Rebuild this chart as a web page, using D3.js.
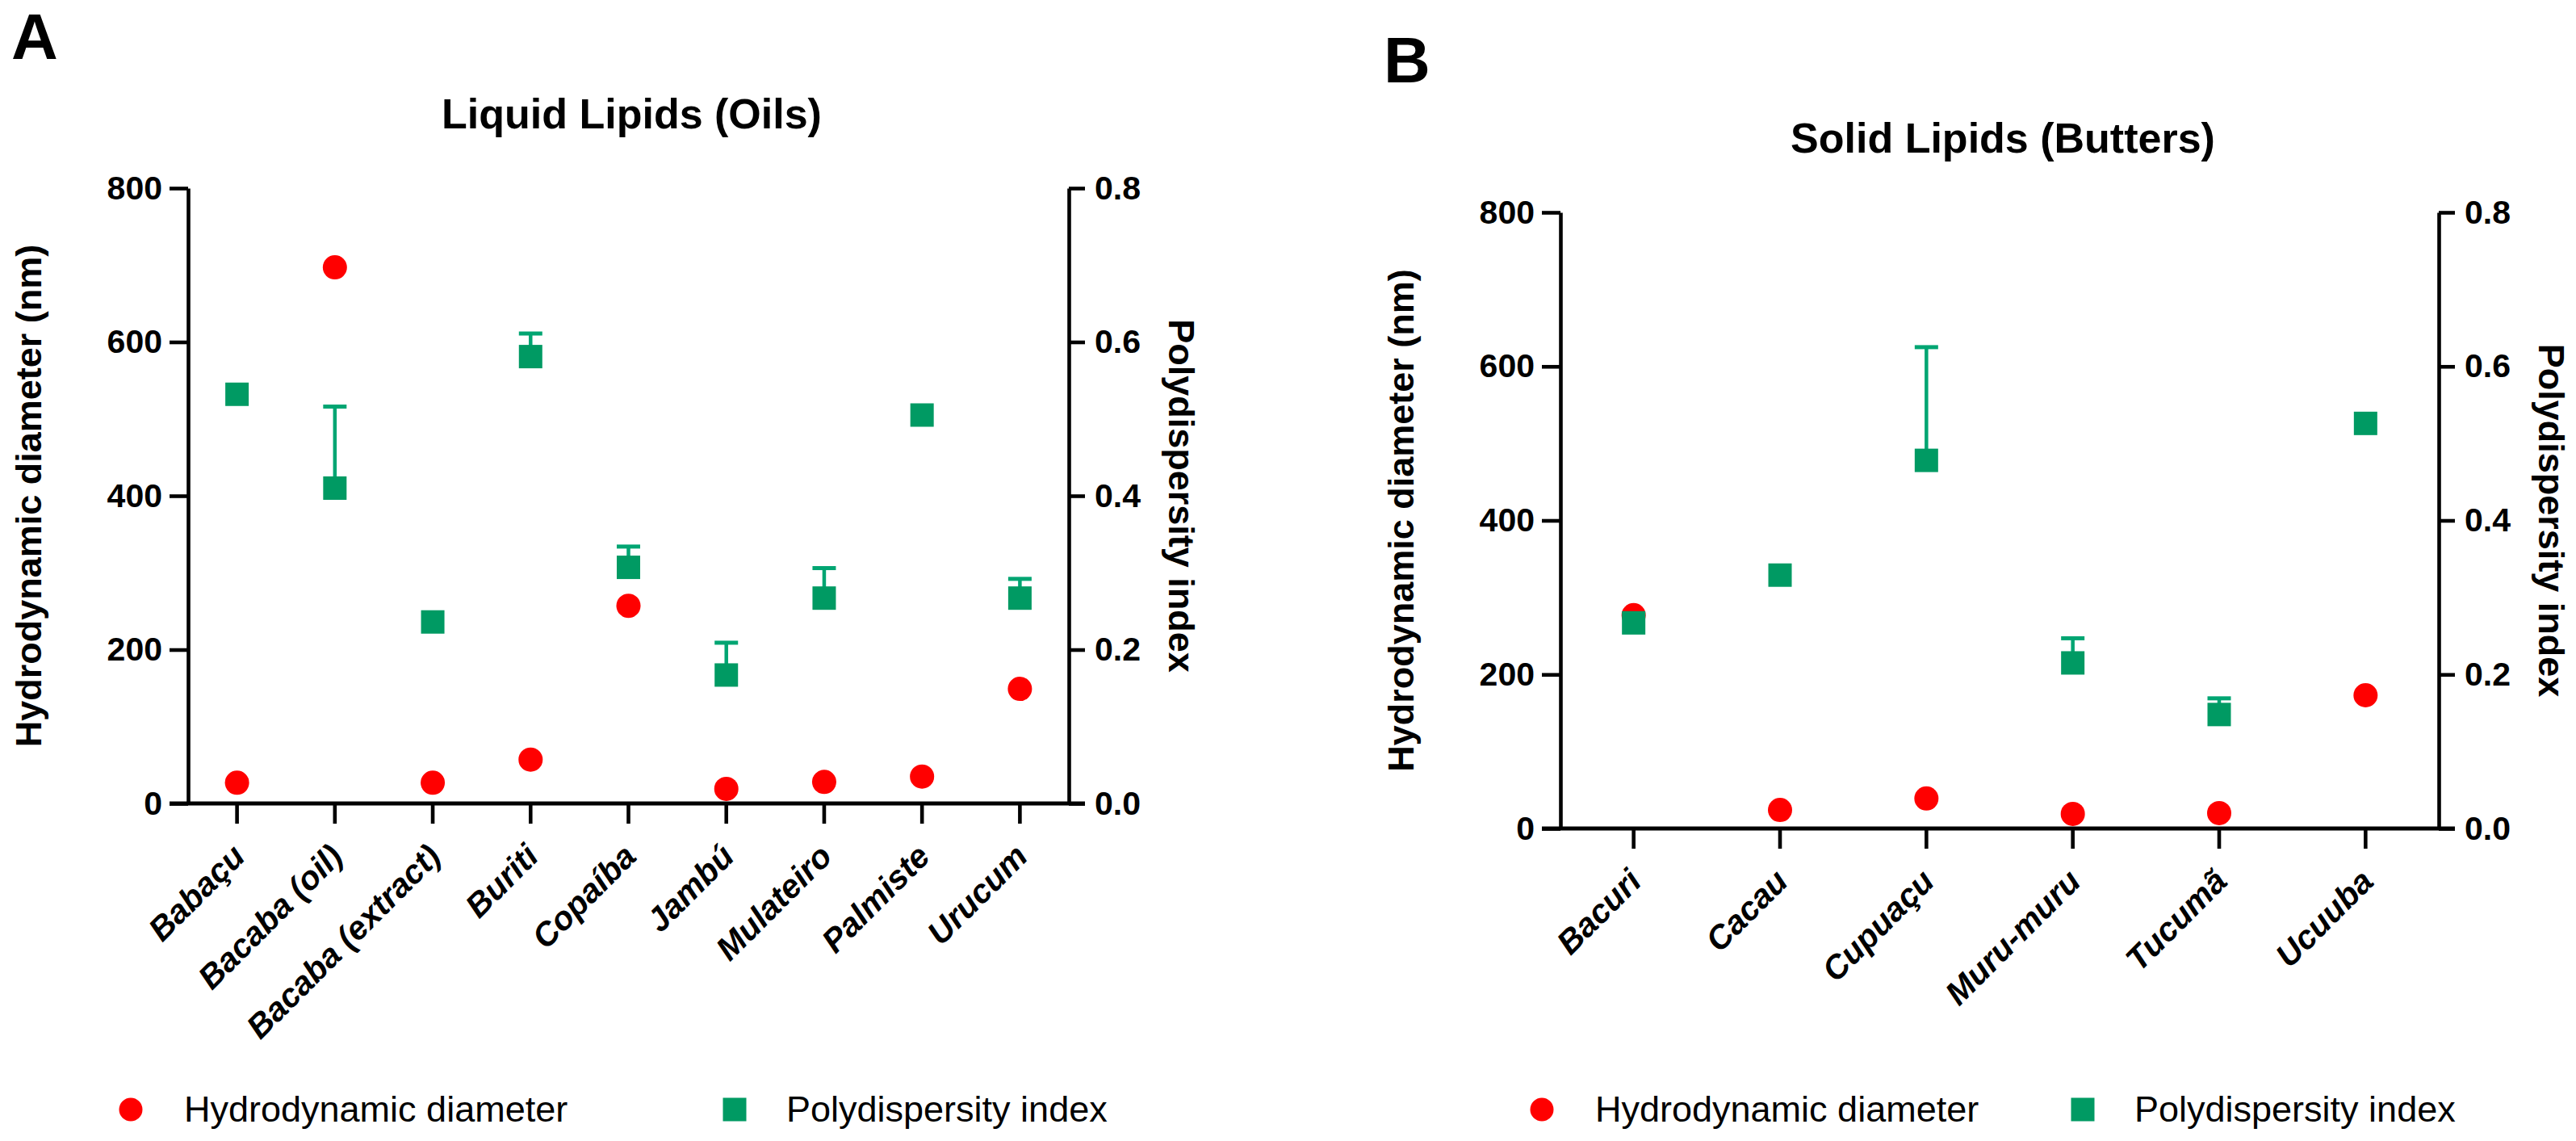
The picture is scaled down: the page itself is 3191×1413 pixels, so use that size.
<!DOCTYPE html>
<html><head><meta charset="utf-8">
<script src="https://cdn.jsdelivr.net/npm/d3@7"></script>
<style>html,body{margin:0;padding:0;background:#fff} svg{display:block}</style>
</head><body>
<svg id="chart" width="3191" height="1413"></svg>
<script>
// ---------- data ----------
const oilsCategories = ["Babaçu", "Bacaba (oil)", "Bacaba (extract)", "Buriti", "Copaíba", "Jambú", "Mulateiro", "Palmiste", "Urucum"];
const oilsDiameter   = [27, 697, 27, 57, 257, 19, 28, 35, 149];
const oilsPdi        = [0.532, 0.410, 0.236, 0.581, 0.307, 0.167, 0.267, 0.505, 0.267];
const oilsPdiSd      = [0, 0.106, 0, 0.030, 0.027, 0.042, 0.039, 0, 0.025];

const buttersCategories = ["Bacuri", "Cacau", "Cupuaçu", "Muru-muru", "Tucumã", "Ucuuba"];
const buttersDiameter   = [277, 24, 39, 19, 20, 173];
const buttersPdi        = [0.267, 0.329, 0.478, 0.215, 0.148, 0.526];
const buttersPdiSd      = [0, 0, 0.147, 0.032, 0.021, 0];

const diameterTicks = [0, 200, 400, 600, 800];
const pdiTicks      = [0, 0.2, 0.4, 0.6, 0.8];

const titles       = ["Liquid Lipids (Oils)", "Solid Lipids (Butters)"];
const panelLetters = ["A", "B"];
const leftAxisTitle  = "Hydrodynamic diameter (nm)";
const rightAxisTitle = "Polydispersity index";
const legendLabels   = ["Hydrodynamic diameter", "Polydispersity index"];

// ---------- style ----------
const FONT = "'Liberation Sans', Arial, Helvetica, sans-serif";
const RED = "#FF0000", GREEN = "#009A63", GREEN_ERR = "#00A572";
const AXW = 4.6;

const svg = d3.select("#chart");

function drawPanel(cfg) {
  const g = svg.append("g");
  const x = d3.scaleBand().domain(cfg.categories).range([cfg.left, cfg.right]);
  const cx = c => x(c) + x.bandwidth() / 2;
  const yL = d3.scaleLinear().domain([0, 800]).range([cfg.bottom, cfg.top]);
  const yR = d3.scaleLinear().domain([0, 0.8]).range([cfg.bottom, cfg.top]);

  // letter + title
  g.append("text").attr("x", cfg.letterX).attr("y", cfg.letterY)
    .attr("font-family", FONT).attr("font-weight", "bold").attr("font-size", 80)
    .text(cfg.letter);
  g.append("text").attr("x", (cfg.left + cfg.right) / 2 + 4).attr("y", cfg.top - 74)
    .attr("text-anchor", "middle")
    .attr("font-family", FONT).attr("font-weight", "bold").attr("font-size", 52)
    .text(cfg.title);

  // left axis
  const la = g.append("g").attr("transform", `translate(${cfg.left},0)`)
    .call(d3.axisLeft(yL).tickValues(diameterTicks).tickSize(23).tickSizeOuter(0).tickPadding(9).tickFormat(d3.format("d")));
  // right axis
  const ra = g.append("g").attr("transform", `translate(${cfg.right},0)`)
    .call(d3.axisRight(yR).tickValues(pdiTicks).tickSize(20).tickSizeOuter(0).tickPadding(12).tickFormat(d3.format(".1f")));
  // bottom axis
  const ba = g.append("g").attr("transform", `translate(0,${cfg.bottom})`)
    .call(d3.axisBottom(x).tickSize(25).tickSizeOuter(0));
  ba.select(".domain").remove();
  g.append("line")
    .attr("x1", cfg.left - 23).attr("x2", cfg.right + 20)
    .attr("y1", cfg.bottom).attr("y2", cfg.bottom)
    .attr("stroke", "#000").attr("stroke-width", AXW + 0.4);

  [la, ra, ba].forEach(a => {
    a.selectAll(".domain").attr("stroke", "#000").attr("stroke-width", AXW);
    a.selectAll(".tick line").attr("stroke", "#000").attr("stroke-width", AXW);
    a.selectAll("text").attr("font-family", FONT).attr("font-weight", "bold")
      .attr("font-size", 41).attr("fill", "#000");
  });
  ba.selectAll(".tick text")
    .attr("x", null).attr("y", null).attr("dy", null)
    .attr("text-anchor", "end")
    .attr("font-style", "italic")
    .attr("font-size", 41)
    .attr("transform", "translate(12,68) rotate(-45)");

  // axis titles
  const midY = (cfg.top + cfg.bottom) / 2;
  g.append("text").attr("transform", `translate(${cfg.left - 182},${midY}) rotate(-90)`)
    .attr("text-anchor", "middle")
    .attr("font-family", FONT).attr("font-weight", "bold").attr("font-size", 45)
    .text(leftAxisTitle);
  g.append("text").attr("transform", `translate(${cfg.right + 124},${midY}) rotate(90)`)
    .attr("text-anchor", "middle")
    .attr("font-family", FONT).attr("font-weight", "bold").attr("font-size", 45)
    .text(rightAxisTitle);

  // diameter points
  g.append("g").selectAll("circle").data(cfg.categories).join("circle")
    .attr("cx", d => cx(d)).attr("cy", (d, i) => yL(cfg.diameter[i]))
    .attr("r", 15).attr("fill", RED);

  // pdi error bars (upper only)
  const eb = g.append("g").attr("stroke", GREEN_ERR);
  cfg.categories.forEach((c, i) => {
    if (cfg.sd[i] <= 0) return;
    const top = yR(cfg.pdi[i] + cfg.sd[i]);
    eb.append("line").attr("x1", cx(c)).attr("x2", cx(c))
      .attr("y1", yR(cfg.pdi[i])).attr("y2", top).attr("stroke-width", 4.5);
    eb.append("line").attr("x1", cx(c) - 14.5).attr("x2", cx(c) + 14.5)
      .attr("y1", top).attr("y2", top).attr("stroke-width", 5);
  });

  // pdi points
  g.append("g").selectAll("rect").data(cfg.categories).join("rect")
    .attr("x", d => cx(d) - 14.5).attr("y", (d, i) => yR(cfg.pdi[i]) - 14.5)
    .attr("width", 29).attr("height", 29).attr("fill", GREEN);

  // legend
  const lg = g.append("g").attr("font-family", FONT).attr("font-size", 45);
  lg.append("circle").attr("cx", cfg.legCircle).attr("cy", 1374).attr("r", 14.5).attr("fill", RED);
  lg.append("text").attr("x", cfg.legCircle + 66).attr("y", 1389).text(legendLabels[0]);
  lg.append("rect").attr("x", cfg.legSquare - 14.5).attr("y", 1374 - 14.5).attr("width", 29).attr("height", 29).attr("fill", GREEN);
  lg.append("text").attr("x", cfg.legSquare + 64).attr("y", 1389).text(legendLabels[1]);
}

drawPanel({
  categories: oilsCategories, diameter: oilsDiameter, pdi: oilsPdi, sd: oilsPdiSd,
  left: 233, right: 1324, top: 233, bottom: 995,
  title: titles[0], letter: panelLetters[0], letterX: 14, letterY: 73,
  legCircle: 162, legSquare: 910
});
drawPanel({
  categories: buttersCategories, diameter: buttersDiameter, pdi: buttersPdi, sd: buttersPdiSd,
  left: 1933, right: 3021, top: 263, bottom: 1026,
  title: titles[1], letter: panelLetters[1], letterX: 1714, letterY: 102,
  legCircle: 1910, legSquare: 2580
});
</script>
</body></html>
